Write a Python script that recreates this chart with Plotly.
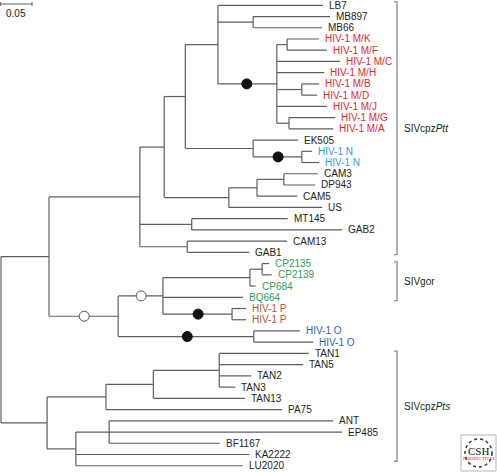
import plotly.graph_objects as go

# ---------------- data ----------------
# leaves in display order (top -> bottom): id, label, colour group, parent, depth (subst./site)
leaf_ids = ["LB7", "MB897", "MB66", "MK", "MF", "MC", "MH", "MB", "MD", "MJ", "MG", "MA",
            "EK505", "N1", "N2", "CAM3", "DP943", "CAM5", "US", "MT145", "GAB2", "CAM13", "GAB1",
            "CP2135", "CP2139", "CP684", "BQ664", "P1", "P2", "O1", "O2",
            "TAN1", "TAN5", "TAN2", "TAN3", "TAN13", "PA75", "ANT", "EP485", "BF1167", "KA2222", "LU2020"]
leaf_labels = ["LB7", "MB897", "MB66", "HIV-1 M/K", "HIV-1 M/F", "HIV-1 M/C", "HIV-1 M/H", "HIV-1 M/B",
               "HIV-1 M/D", "HIV-1 M/J", "HIV-1 M/G", "HIV-1 M/A",
               "EK505", "HIV-1 N", "HIV-1 N", "CAM3", "DP943", "CAM5", "US", "MT145", "GAB2", "CAM13", "GAB1",
               "CP2135", "CP2139", "CP684", "BQ664", "HIV-1 P", "HIV-1 P", "HIV-1 O", "HIV-1 O",
               "TAN1", "TAN5", "TAN2", "TAN3", "TAN13", "PA75", "ANT", "EP485", "BF1167", "KA2222", "LU2020"]
leaf_groups = ["cpz", "cpz", "cpz", "M", "M", "M", "M", "M", "M", "M", "M", "M",
               "cpz", "N", "N", "cpz", "cpz", "cpz", "cpz", "cpz", "cpz", "cpz", "cpz",
               "gor", "gor", "gor", "gor", "P", "P", "O", "O",
               "cpz", "cpz", "cpz", "cpz", "cpz", "cpz", "cpz", "cpz", "cpz", "cpz", "cpz"]
leaf_parents = ["E", "MBn", "MBn", "KF", "KF", "Mn", "Mn", "BD", "BD", "Mn", "GA", "GA",
                "EKN", "Nn", "Nn", "CD", "CD", "CS", "CAMn", "J", "J", "K", "K",
                "CPs", "CPs", "GOR", "M", "Pn", "Pn", "On", "On",
                "X3", "X3", "X3", "X3", "X2", "X1", "Y2", "Y2", "Y2", "Y1", "Y1"]
leaf_depths = [0.503, 0.514, 0.502, 0.497, 0.509, 0.530, 0.505, 0.497, 0.494, 0.509, 0.522, 0.519,
               0.464, 0.486, 0.497, 0.495, 0.491, 0.463, 0.502, 0.448, 0.533, 0.447, 0.388,
               0.419, 0.423, 0.398, 0.378, 0.383, 0.383, 0.467, 0.488,
               0.481, 0.472, 0.391, 0.366, 0.381, 0.439, 0.519, 0.533, 0.342, 0.388, 0.378]

# internal nodes: id, parent, depth
node_ids = ["root", "A", "B", "C", "D", "E", "MBn", "Mn", "KF", "BD", "GA", "EKN", "Nn",
            "CAMn", "CS", "CD", "J", "K", "L", "M", "GOR", "CPs", "Pn", "On",
            "PTS", "X1", "X2", "X3", "Y1", "Y2"]
node_parents = [None, "root", "A", "B", "C", "D", "E", "E", "Mn", "Mn", "Mn", "D", "EKN",
                "C", "CAMn", "CS", "B", "B", "A", "L", "M", "GOR", "M", "L",
                "root", "PTS", "X1", "X2", "PTS", "Y1"]
node_depths = [0.0, 0.075, 0.217, 0.255, 0.288, 0.339, 0.394, 0.431, 0.447, 0.470, 0.450, 0.394, 0.470,
               0.356, 0.400, 0.442, 0.298, 0.291, 0.183, 0.253, 0.389, 0.408, 0.361, 0.395,
               0.072, 0.164, 0.238, 0.341, 0.117, 0.169]

# support markers on branches leading to nodes: node id, depth of marker, filled?
support_nodes = ["Mn", "Nn", "Pn", "On", "M", "L"]
support_depths = [0.384, 0.433, 0.308, 0.291, 0.219, 0.130]
support_filled = [True, True, True, True, False, False]

# clade brackets
clade_labels = ["SIVcpz<i>Ptt</i>", "SIVgor", "SIVcpz<i>Pts</i>"]
clade_first = ["LB7", "CP2135", "TAN1"]
clade_last = ["GAB1", "BQ664", "LU2020"]

scale_value = 0.05

# ---------------- styles ----------------
group_colors = {"cpz": "#231f20", "M": "#e3262b", "N": "#2ba3d6", "gor": "#2f9e57",
                "P": "#a25a3c", "O": "#2f62aa"}
LINE = "#5f5f5f"
FONT = "Liberation Sans, Arial, Helvetica, sans-serif"
W, H = 497, 472
PX_PER_UNIT = 640.0
X0 = -1 / PX_PER_UNIT
Y_TOP, Y_STEP = 5.3, 11.23

# ---------------- build tree ----------------
x = {}
y = {}
parent = {}
children = {}
for nid, p, d in zip(node_ids, node_parents, node_depths):
    x[nid] = d
    parent[nid] = p
    children.setdefault(nid, [])
for i, (lid, p, d) in enumerate(zip(leaf_ids, leaf_parents, leaf_depths)):
    x[lid] = d
    y[lid] = i
    parent[lid] = p
for nid in list(node_ids) + list(leaf_ids):
    p = parent[nid]
    if p is not None:
        children.setdefault(p, []).append(nid)


def get_y(n):
    if n in y:
        return y[n]
    ys = [get_y(c) for c in children[n]]
    y[n] = (min(ys) + max(ys)) / 2
    return y[n]


get_y("root")

seg_x, seg_y = [], []
for n in node_ids:
    ys = [y[c] for c in children[n]]
    seg_x += [x[n], x[n], None]
    seg_y += [min(ys), max(ys), None]
for n in list(node_ids) + list(leaf_ids):
    p = parent[n]
    if p is not None:
        seg_x += [x[p], x[n], None]
        seg_y += [y[n], y[n], None]

fig = go.Figure()
fig.add_trace(go.Scatter(x=seg_x, y=seg_y, mode="lines",
                         line=dict(color=LINE, width=1.2), hoverinfo="skip", showlegend=False))

# support circles
for n, d, f in zip(support_nodes, support_depths, support_filled):
    fig.add_trace(go.Scatter(
        x=[d], y=[y[n]], mode="markers", showlegend=False, hoverinfo="skip",
        marker=dict(size=10, color="#111111" if f else "white",
                    line=dict(color="#111111" if f else "#555555", width=1))))

# leaf labels
for lid, lab, g in zip(leaf_ids, leaf_labels, leaf_groups):
    fig.add_annotation(x=x[lid], y=y[lid], text=lab, showarrow=False, xanchor="left",
                       yanchor="middle", xshift=4,
                       font=dict(family=FONT, size=10, color=group_colors[g]))

# clade brackets
bx = (397 - 1) / PX_PER_UNIT
tick = 3 / PX_PER_UNIT
pads = {"LB7": -0.3, "CP2135": -0.15, "TAN1": -0.2}
pads_end = {"GAB1": 0.2, "BQ664": 0.3, "LU2020": -0.4}
for lab, f, l in zip(clade_labels, clade_first, clade_last):
    y0 = y[f] + pads[f]
    y1 = y[l] + pads_end[l]
    fig.add_trace(go.Scatter(x=[bx - tick, bx, bx, bx - tick], y=[y0, y0, y1, y1], mode="lines",
                             line=dict(color="#8a8a8a", width=1.3), hoverinfo="skip", showlegend=False))
    fig.add_annotation(x=bx, y=(y0 + y1) / 2, text=lab, showarrow=False, xanchor="left",
                       yanchor="middle", xshift=5, font=dict(family=FONT, size=10, color="#231f20"))

# scale bar
sy = (4 - Y_TOP) / Y_STEP
th = 2 / Y_STEP
fig.add_trace(go.Scatter(x=[X0 + 0.0005, X0 + 0.0005, None, X0 + 0.0005, X0 + scale_value, None,
                            X0 + scale_value, X0 + scale_value],
                         y=[sy - th, sy + th, None, sy, sy, None, sy - th, sy + th],
                         mode="lines", line=dict(color=LINE, width=1), hoverinfo="skip", showlegend=False))
fig.add_annotation(x=X0 + scale_value / 2, y=sy, text=str(scale_value), showarrow=False,
                   yanchor="top", yshift=-2, font=dict(family=FONT, size=10, color="#231f20"))

# CSH Perspectives logo box
fig.add_shape(type="rect", xref="paper", yref="paper", x0=461 / W, x1=496 / W,
              y0=1 - 471 / H, y1=1 - 435 / H, line=dict(color="#b5b5b5", width=1), fillcolor="white")
fig.add_shape(type="circle", xref="paper", yref="paper", x0=465 / W, x1=492 / W,
              y0=1 - 467 / H, y1=1 - 439 / H, line=dict(color="#333333", width=1.5, dash="dot"))
fig.add_annotation(xref="paper", yref="paper", x=478.5 / W, y=1 - 451 / H, text="CSH", showarrow=False,
                   xanchor="center", yanchor="middle",
                   font=dict(family="Liberation Serif, Times New Roman, serif", size=11, color="#111111"))
fig.add_annotation(xref="paper", yref="paper", x=478.5 / W, y=1 - 458.5 / H, text="PERSPECTIVES",
                   showarrow=False, xanchor="center", yanchor="middle",
                   font=dict(family="Liberation Serif, serif", size=4.5, color="#c4262e"))

fig.update_layout(
    width=W, height=H, margin=dict(l=0, r=0, t=0, b=0),
    paper_bgcolor="white", plot_bgcolor="white",
    xaxis=dict(range=[X0, X0 + W / PX_PER_UNIT], visible=False, fixedrange=True),
    yaxis=dict(range=[(H - Y_TOP) / Y_STEP, -Y_TOP / Y_STEP], visible=False, fixedrange=True),
    showlegend=False,
)

fig.write_html("out.html", config={"displayModeBar": False},
               post_script="document.body.style.margin='0';document.body.style.overflow='hidden';")
